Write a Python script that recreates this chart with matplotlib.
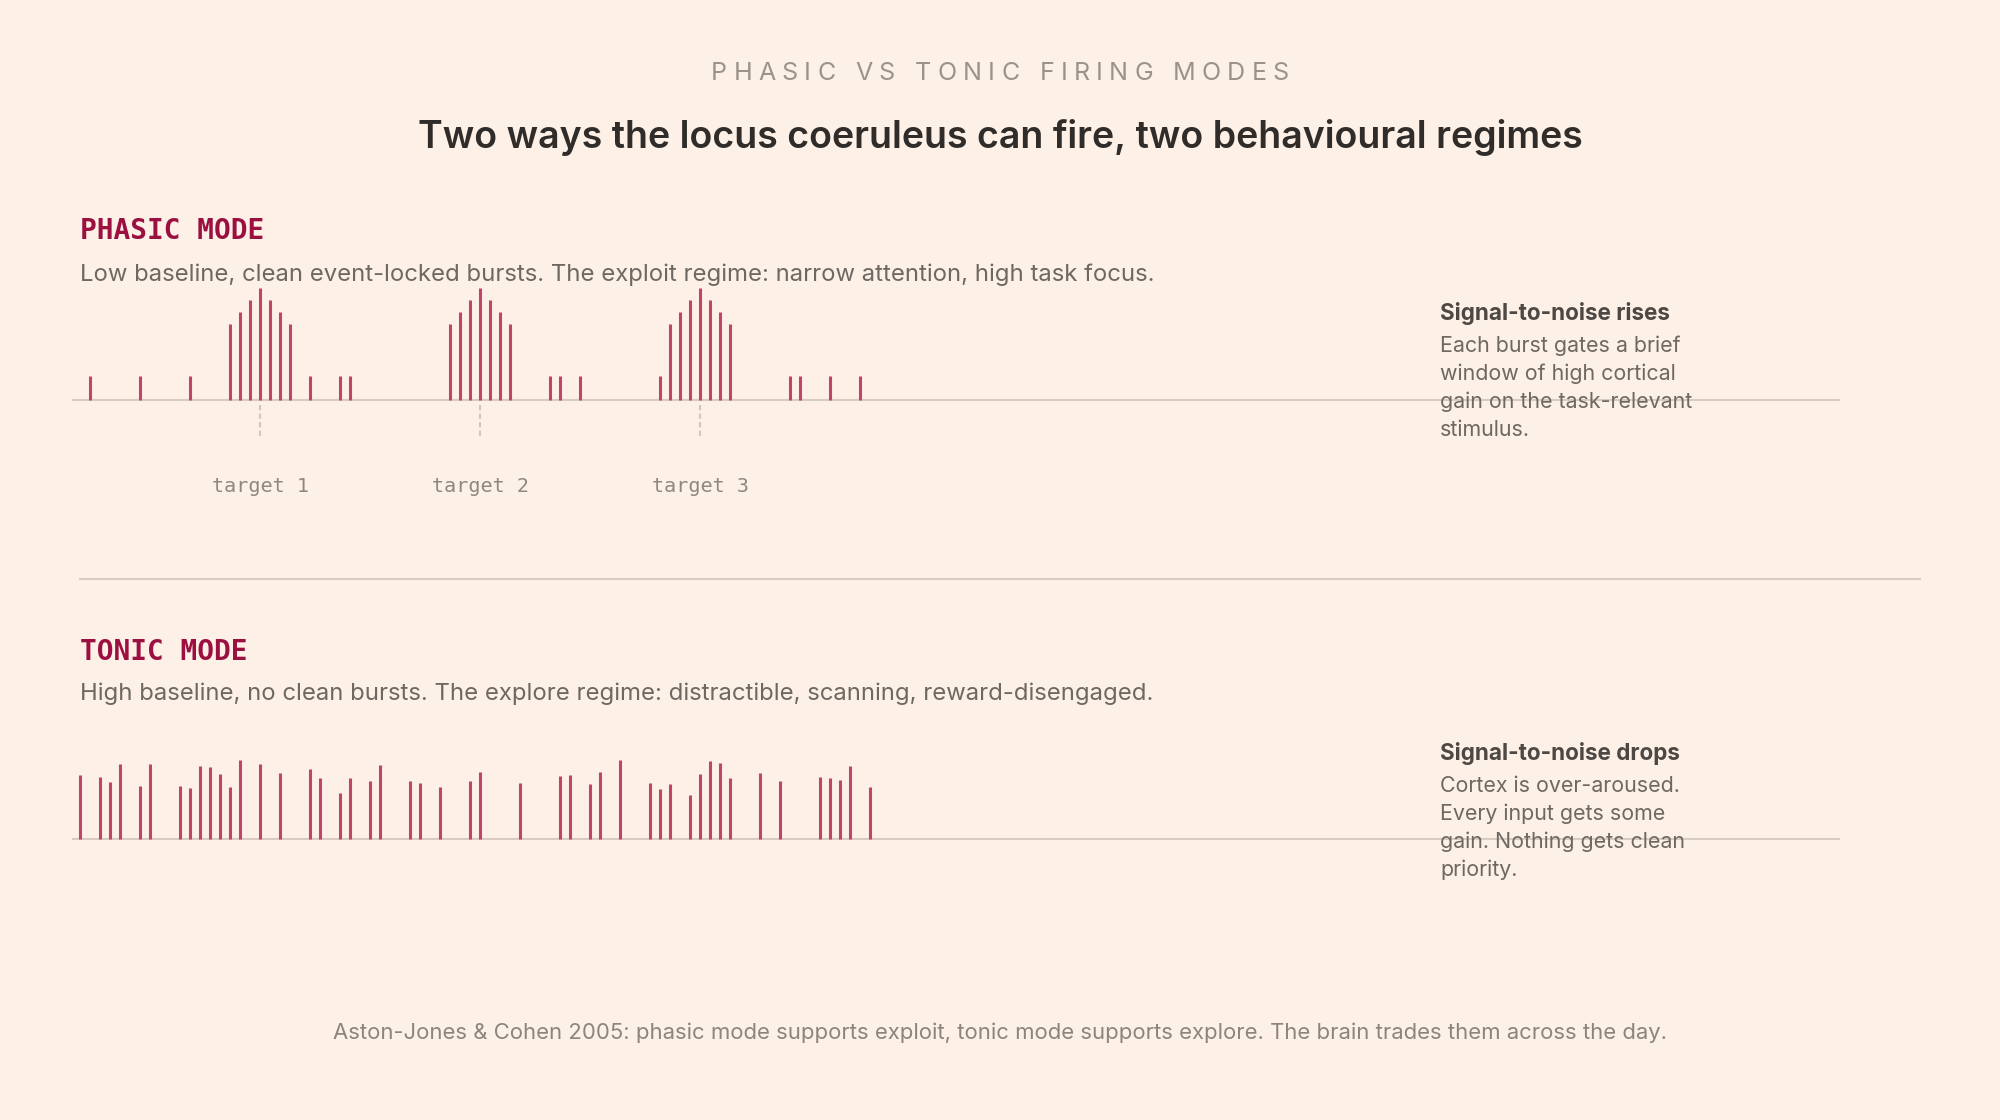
import matplotlib
matplotlib.use("Agg")
import matplotlib.pyplot as plt

W, H = 2000, 1120
BG = "#fdf0e6"
SPIKE = "#c0456b"
BASE = "#d8cbc0"
CRIMSON = "#9b1040"

# phasic mode: spike times and heights (arbitrary units)
phasic_t = [1, 6, 11, 15, 16, 17, 18, 19, 20, 21, 23, 26, 27,
            37, 38, 39, 40, 41, 42, 43, 47, 48, 50,
            58, 59, 60, 61, 62, 63, 64, 65, 71, 72, 75, 78]
phasic_h = [24, 24, 24, 76, 88, 100, 112, 100, 88, 76, 24, 24, 24,
            76, 88, 100, 112, 100, 88, 76, 24, 24, 24,
            24, 76, 88, 100, 112, 100, 88, 76, 24, 24, 24, 24]
targets = [18, 40, 62]
target_labels = ["target 1", "target 2", "target 3"]

# tonic mode
tonic_t = [0, 2, 3, 4, 6, 7, 10, 11, 12, 13, 14, 15, 16, 18, 20, 23, 24, 26,
           27, 29, 30, 33, 34, 36, 39, 40, 44, 48, 49, 51, 52, 54, 57, 58,
           59, 61, 62, 63, 64, 65, 68, 70, 74, 75, 76, 77, 79]
tonic_h = [64, 62, 57, 75, 53, 75, 53, 51, 73, 72, 65, 52, 79, 75, 66, 70, 61, 46,
           61, 58, 74, 58, 56, 52, 58, 67, 56, 63, 64, 55, 67, 79, 56, 50,
           55, 44, 65, 78, 76, 61, 66, 58, 62, 61, 59, 73, 52]

T_MIN, T_MAX = -0.8, 176

plt.rcParams["font.family"] = ["Inter", "DejaVu Sans"]
fig = plt.figure(figsize=(W / 100, H / 100), dpi=100, facecolor=BG)


def fx(x):
    return x / W


def fy(y):
    return 1 - y / H


def spaced_text(s, xc, y, gap, word_gap, **kw):
    r = fig.canvas.get_renderer()
    widths = []
    for ch in s:
        if ch == " ":
            widths.append(None)
            continue
        t = fig.text(0, 0, ch, **kw)
        widths.append(t.get_window_extent(r).width)
        t.remove()
    total = 0
    for i, w in enumerate(widths):
        if w is None:
            total += word_gap
        else:
            total += w
            if i < len(widths) - 1 and widths[i + 1] is not None:
                total += gap
    x = xc - total / 2
    for i, (ch, w) in enumerate(zip(s, widths)):
        if w is None:
            x += word_gap
            continue
        fig.text(fx(x), fy(y), ch, ha="left", va="baseline", **kw)
        x += w
        if i < len(widths) - 1 and widths[i + 1] is not None:
            x += gap


def panel(top, bottom, base):
    ax = fig.add_axes([fx(72), fy(bottom), (1840 - 72) / W, (bottom - top) / H])
    ax.set_xlim(T_MIN, T_MAX)
    ax.set_ylim(-(bottom - base), base - top)
    ax.axis("off")
    ax.hlines(0, T_MIN, T_MAX, color=BASE, lw=1.5, zorder=1)
    return ax


# header
spaced_text("PHASIC VS TONIC FIRING MODES", 1000, 80, 6.2, 20,
            fontsize=18, color="#9a928b")
fig.text(0.5, fy(148), "Two ways the locus coeruleus can fire, two behavioural regimes",
         ha="center", va="baseline", fontsize=27, fontweight="semibold", color="#302c29")

# phasic panel
fig.text(fx(80), fy(239), "PHASIC MODE", family="DejaVu Sans Mono", fontweight="bold",
         fontsize=20, color=CRIMSON, va="baseline")
fig.text(fx(80), fy(281), "Low baseline, clean event-locked bursts. The exploit regime: "
         "narrow attention, high task focus.", fontsize=17.2, color="#6e6862", va="baseline")
ax1 = panel(270, 450, 400)
ax1.vlines(phasic_t, 0, phasic_h, color=SPIKE, lw=2.2, zorder=2)
ax1.vlines(targets, -5, -37, color="#d2c5ba", lw=1.5, linestyles=(0, (2.5, 1.6)))
for t, lab in zip(targets, target_labels):
    fig.text(fx(80 + t * 10), fy(492), lab, ha="center", va="baseline",
             family="DejaVu Sans Mono", fontsize=14.5, color="#8f8780")

fig.text(fx(1440), fy(320), "Signal-to-noise rises", fontsize=16.2, fontweight="bold",
         color="#4d4843", va="baseline")
for i, line in enumerate(["Each burst gates a brief", "window of high cortical",
                          "gain on the task-relevant", "stimulus."]):
    fig.text(fx(1440), fy(352 + 28 * i), line, fontsize=15.4, color="#6e6862", va="baseline")

# divider
fig.add_artist(plt.Line2D([fx(80), fx(1920)], [fy(579), fy(579)], color=BASE, lw=1.5))

# tonic panel
fig.text(fx(80), fy(660), "TONIC MODE", family="DejaVu Sans Mono", fontweight="bold",
         fontsize=20, color=CRIMSON, va="baseline")
fig.text(fx(80), fy(700), "High baseline, no clean bursts. The explore regime: "
         "distractible, scanning, reward-disengaged.", fontsize=17.2, color="#6e6862",
         va="baseline")
ax2 = panel(740, 850, 839)
ax2.vlines(tonic_t, 0, tonic_h, color=SPIKE, lw=2.2, zorder=2)

fig.text(fx(1440), fy(760), "Signal-to-noise drops", fontsize=16.2, fontweight="bold",
         color="#4d4843", va="baseline")
for i, line in enumerate(["Cortex is over-aroused.", "Every input gets some",
                          "gain. Nothing gets clean", "priority."]):
    fig.text(fx(1440), fy(792 + 28 * i), line, fontsize=15.4, color="#6e6862", va="baseline")

# footer
fig.text(0.5, fy(1039), "Aston-Jones & Cohen 2005: phasic mode supports exploit, tonic mode "
         "supports explore. The brain trades them across the day.",
         ha="center", va="baseline", fontsize=15.9, color="#8c847d")

fig.savefig("out.png", dpi=100, facecolor=BG)
